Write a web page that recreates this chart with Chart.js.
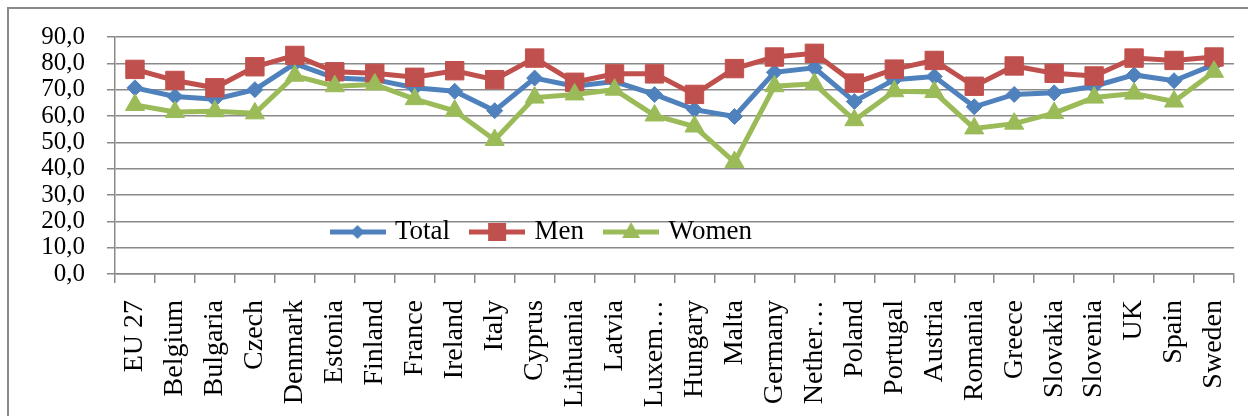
<!DOCTYPE html>
<html>
<head>
<meta charset="utf-8">
<script src="https://cdn.jsdelivr.net/npm/chart.js@4/dist/chart.umd.min.js"></script>
<style>
  html, body { margin: 0; padding: 0; background: #ffffff; }
  #wrap { position: relative; width: 1248px; height: 416px; overflow: hidden; background: #ffffff; }
  #frame { position: absolute; left: 7px; top: 7px; width: 1260px; height: 430px; border: 2px solid #8a8a8a; box-sizing: border-box; }
  #c { position: absolute; left: 0; top: 0; }
</style>
</head>
<body>
<div id="wrap">
  <div id="frame"></div>
  <canvas id="c" width="1248" height="416"></canvas>
</div>
<script>
const categories = ['EU 27','Belgium','Bulgaria','Czech','Denmark','Estonia','Finland','France','Ireland','Italy','Cyprus','Lithuania','Latvia','Luxem…','Hungary','Malta','Germany','Nether…','Poland','Portugal','Austria','Romania','Greece','Slovakia','Slovenia','UK','Spain','Sweden'];
const seriesNames = ['Total', 'Men', 'Women'];
const totalValues = [70.7, 67.4, 66.4, 70.0, 79.9, 74.4, 73.8, 70.7, 69.4, 62.0, 74.4, 71.3, 73.1, 68.2, 62.4, 59.8, 76.6, 78.3, 65.5, 73.8, 75.0, 63.5, 68.2, 68.8, 71.3, 75.6, 73.4, 79.5];
const menValues   = [77.7, 73.5, 70.7, 78.7, 83.0, 76.8, 76.2, 74.7, 77.2, 73.8, 82.0, 72.8, 76.0, 76.0, 68.2, 78.0, 82.4, 83.8, 72.5, 77.8, 81.1, 71.3, 79.0, 76.2, 75.2, 82.0, 81.1, 82.4];
const womenValues = [64.2, 61.5, 61.8, 61.0, 75.3, 71.3, 72.0, 66.4, 62.0, 50.9, 67.0, 68.2, 70.0, 60.2, 56.0, 42.5, 71.3, 72.2, 58.4, 69.4, 69.1, 55.3, 57.1, 61.1, 67.0, 68.5, 65.5, 76.8];
const yMin = 0, yMax = 90, yStep = 10;

const COLORS = { total: '#4F81BD', men: '#C0504D', women: '#9BBB59' };
const FONT = "'Liberation Serif', 'Times New Roman', Times, serif";
const GRID = '#8a8a8a';

function legendMarker(color, shape) {
  const cv = document.createElement('canvas');
  cv.width = 56; cv.height = 26;
  const ctx = cv.getContext('2d');
  ctx.strokeStyle = color; ctx.fillStyle = color; ctx.lineWidth = 5;
  ctx.beginPath(); ctx.moveTo(0, 13); ctx.lineTo(56, 13); ctx.stroke();
  const cx = 28, cy = 13;
  ctx.beginPath();
  if (shape === 'diamond') {
    ctx.moveTo(cx - 7, cy); ctx.lineTo(cx, cy - 7); ctx.lineTo(cx + 7, cy); ctx.lineTo(cx, cy + 7);
  } else if (shape === 'square') {
    ctx.rect(cx - 9, cy - 9, 18, 18);
  } else {
    ctx.moveTo(cx, cy - 10); ctx.lineTo(cx + 9, cy + 6); ctx.lineTo(cx - 9, cy + 6);
  }
  ctx.closePath(); ctx.fill();
  return cv;
}
const legendImgs = [legendMarker(COLORS.total, 'diamond'), legendMarker(COLORS.men, 'square'), legendMarker(COLORS.women, 'triangle')];

const floatingLegend = {
  id: 'floatingLegend',
  afterInit(chart) {
    const lg = chart.legend;
    if (!lg || lg._patched) return;
    const origFit = lg.fit.bind(lg);
    lg.fit = function () { origFit(); this._fullHeight = this.height; this.height = 0; };
    lg._patched = true;
  },
  afterLayout(chart, args, opts) {
    const lg = chart.legend;
    if (!lg) return;
    const pad = lg.options.labels.padding;
    const fs = lg.options.labels.font.size;
    lg.left = opts.x - pad;
    lg.right = chart.width;
    lg.top = opts.y - pad - fs / 2;
    lg.bottom = lg.top + (lg._fullHeight || fs + 2 * pad);
    lg.width = lg.right - lg.left;
    lg.height = lg.bottom - lg.top;
  }
};

new Chart(document.getElementById('c'), {
  type: 'line',
  data: {
    labels: categories,
    datasets: [
      { label: seriesNames[0], data: totalValues, borderColor: COLORS.total, backgroundColor: COLORS.total,
        borderWidth: 5, pointStyle: 'rectRot', pointRadius: 8, pointBorderWidth: 1, pointHoverRadius: 8, tension: 0, order: 2 },
      { label: seriesNames[1], data: menValues, borderColor: COLORS.men, backgroundColor: COLORS.men,
        borderWidth: 5, pointStyle: 'rect', pointRadius: 13, pointBorderWidth: 1, pointHoverRadius: 13, tension: 0, order: 1 },
      { label: seriesNames[2], data: womenValues, borderColor: COLORS.women, backgroundColor: COLORS.women,
        borderWidth: 5, pointStyle: 'triangle', pointRadius: 11, pointBorderWidth: 1, pointHoverRadius: 11, tension: 0, order: 0 }
    ]
  },
  options: {
    responsive: false,
    animation: false,
    layout: { padding: { left: 40, top: 30, right: 0, bottom: 0 } },
    plugins: {
      title: { display: false },
      tooltip: { enabled: false },
      legend: {
        display: true,
        position: 'top',
        align: 'start',
        labels: {
          usePointStyle: true,
          pointStyleWidth: 48,
          padding: 23,
          color: '#000000',
          font: { family: FONT, size: 27 },
          sort: (a, b) => a.datasetIndex - b.datasetIndex,
          generateLabels: (chart) => chart.data.datasets.map((ds, i) => ({
            text: ds.label, datasetIndex: i, pointStyle: legendImgs[i],
            fillStyle: ds.borderColor, strokeStyle: ds.borderColor, lineWidth: 0, hidden: false, fontColor: '#000000'
          }))
        }
      },
      floatingLegend: { x: 333.5, y: 232 }
    },
    scales: {
      x: {
        type: 'category',
        offset: true,
        grid: { display: true, drawOnChartArea: false, drawTicks: true, tickLength: 9, offset: true, color: GRID, lineWidth: 1.5 },
        border: { display: true, color: GRID, width: 1.5 },
        ticks: { autoSkip: false, maxRotation: 90, minRotation: 90, padding: 17, color: '#000000', font: { family: FONT, size: 28 } },
        afterFit(scale) { scale.height = 142; scale.paddingLeft = 0; scale.paddingRight = 0; }
      },
      y: {
        min: yMin, max: yMax,
        grid: { color: GRID, lineWidth: 1.5, tickLength: 8, drawTicks: true },
        border: { display: true, color: GRID, width: 1.5 },
        ticks: { stepSize: yStep, autoSkip: false, padding: 22, color: '#000000', font: { family: FONT, size: 25 },
          callback: (v) => Number(v).toFixed(1).replace('.', ',') },
        afterFit(scale) { scale.width = 75; }
      }
    }
  },
  plugins: [floatingLegend]
});
</script>
</body>
</html>
